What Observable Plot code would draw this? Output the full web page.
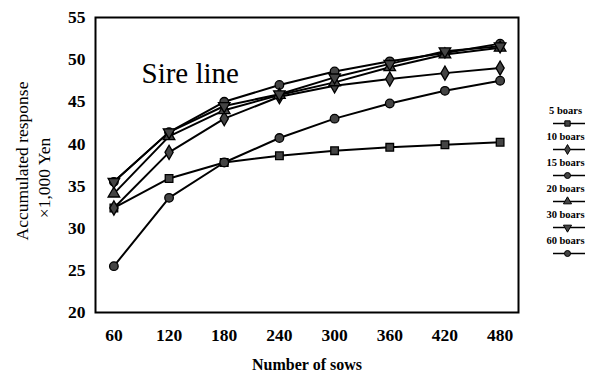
<!DOCTYPE html>
<html>
<head>
<meta charset="utf-8">
<script src="https://cdn.jsdelivr.net/npm/d3@7"></script>
<script src="https://cdn.jsdelivr.net/npm/@observablehq/plot@0.6"></script>
<style>
  html, body { margin: 0; padding: 0; background: #fff; }
  #wrap { position: relative; width: 590px; height: 378px; }
  #legend { position: absolute; left: 545px; top: 100px; }
  svg { font-family: "Liberation Serif", "DejaVu Serif", serif; }
</style>
</head>
<body>
<div id="wrap"><div id="chart"></div><div id="legend"></div></div>
<script>
// ---- data ----
const sows = [60, 120, 180, 240, 300, 360, 420, 480];
const seriesNames = ["5 boars", "10 boars", "15 boars", "20 boars", "30 boars", "60 boars"];
const boars5  = [32.4, 35.9, 37.8, 38.6, 39.2, 39.6, 39.9, 40.2];
const boars10 = [32.4, 39.0, 43.0, 45.6, 46.9, 47.7, 48.4, 49.0];
const boars15 = [35.5, 41.4, 45.0, 47.0, 48.6, 49.8, 50.8, 51.9];
const boars20 = [34.1, 40.9, 44.0, 45.8, 47.3, 49.1, 50.6, 51.4];
const boars30 = [35.5, 41.4, 44.5, 45.9, 47.9, 49.5, 51.0, 51.6];
const boars60 = [25.5, 33.6, 37.8, 40.7, 43.0, 44.8, 46.3, 47.5];
const yTicks = [20, 25, 30, 35, 40, 45, 50, 55];
const xTicks = [60, 120, 180, 240, 300, 360, 420, 480];
const titleText = "Sire line";
const xLabel = "Number of sows";
const yLabel1 = "Accumulated response";
const yLabel2 = "\u00d71,000 Yen";

// ---- build table ----
const seriesValues = [boars5, boars10, boars15, boars20, boars30, boars60];
const data = [];
seriesNames.forEach((s, i) => sows.forEach((x, j) => data.push({series: s, sows: x, value: seriesValues[i][j]})));

const triangleDown = {
  draw(context, size) {
    const y = -Math.sqrt(size / (Math.sqrt(3) * 3));
    context.moveTo(0, -y * 2);
    context.lineTo(-Math.sqrt(3) * y, y);
    context.lineTo(Math.sqrt(3) * y, y);
    context.closePath();
  }
};
const symbols = {
  "5 boars": "square",
  "10 boars": "diamond",
  "15 boars": "circle",
  "20 boars": "triangle",
  "30 boars": triangleDown,
  "60 boars": "circle"
};

const dotMarks = seriesNames.map(s =>
  Plot.dot(data.filter(d => d.series === s), {
    x: "sows", y: "value", symbol: symbols[s], r: 4.3,
    fill: "#444", stroke: "black", strokeWidth: 1.3
  })
);

const chart = Plot.plot({
  width: 590,
  height: 378,
  marginLeft: 95,
  marginRight: 72,
  marginTop: 17,
  marginBottom: 66,
  x: {domain: [40, 500]},
  y: {domain: [20, 55]},
  style: {fontFamily: "'Liberation Serif', 'DejaVu Serif', serif", fontSize: "17px", fontWeight: "bold", color: "black", background: "white"},
  marks: [
    Plot.frame({stroke: "black", strokeWidth: 2}),
    Plot.axisX({ticks: xTicks, tickSize: 0, tickPadding: 16, tickFormat: d => String(d), label: null, fontSize: 17.5}),
    Plot.axisY({ticks: yTicks, tickSize: 0, tickPadding: 10, tickFormat: d => String(d), label: null, fontSize: 17.5}),
    Plot.text([xLabel], {frameAnchor: "bottom", text: d => d, dy: 57, fontSize: 16, fontWeight: "bold"}),
    Plot.text([yLabel1], {frameAnchor: "left", text: d => d, textAnchor: "middle", rotate: -90, dx: -73, dy: -4, fontSize: 17.5, fontWeight: "normal", fill: "black"}),
    Plot.text([yLabel2], {frameAnchor: "left", text: d => d, textAnchor: "middle", rotate: -90, dx: -51, dy: 13, fontSize: 17.5, fontWeight: "normal", fill: "black"}),
    Plot.text([titleText], {frameAnchor: "top-left", text: d => d, textAnchor: "start", lineAnchor: "bottom", dx: 46, dy: 65, fontSize: 29, fontWeight: "normal"}),
    Plot.line(data, {x: "sows", y: "value", z: "series", stroke: "black", strokeWidth: 2}),
    ...dotMarks
  ]
});
document.getElementById("chart").appendChild(chart);

// ---- legend ----
const legendDots = seriesNames.map(s =>
  Plot.dot([s], {y: d => d, frameAnchor: "middle", symbol: symbols[s], r: 3, dx: -2, dy: 13, fill: "#444", stroke: "black", strokeWidth: 1})
);
const legend = Plot.plot({
  width: 45,
  height: 170,
  marginLeft: 8,
  marginRight: 5,
  marginTop: 10,
  marginBottom: 20,
  y: {type: "point", domain: seriesNames, range: [10, 140], padding: 0, axis: null},
  style: {fontFamily: "'Liberation Serif', 'DejaVu Serif', serif", background: "transparent"},
  marks: [
    Plot.text(seriesNames, {y: d => d, text: d => d, frameAnchor: "middle", dx: -4, fontSize: 10.5, fontWeight: "bold"}),
    Plot.tickY(seriesNames, {y: d => d, dy: 13, stroke: "black", strokeWidth: 1.5}),
    ...legendDots
  ]
});
document.getElementById("legend").appendChild(legend);
</script>
</body>
</html>
